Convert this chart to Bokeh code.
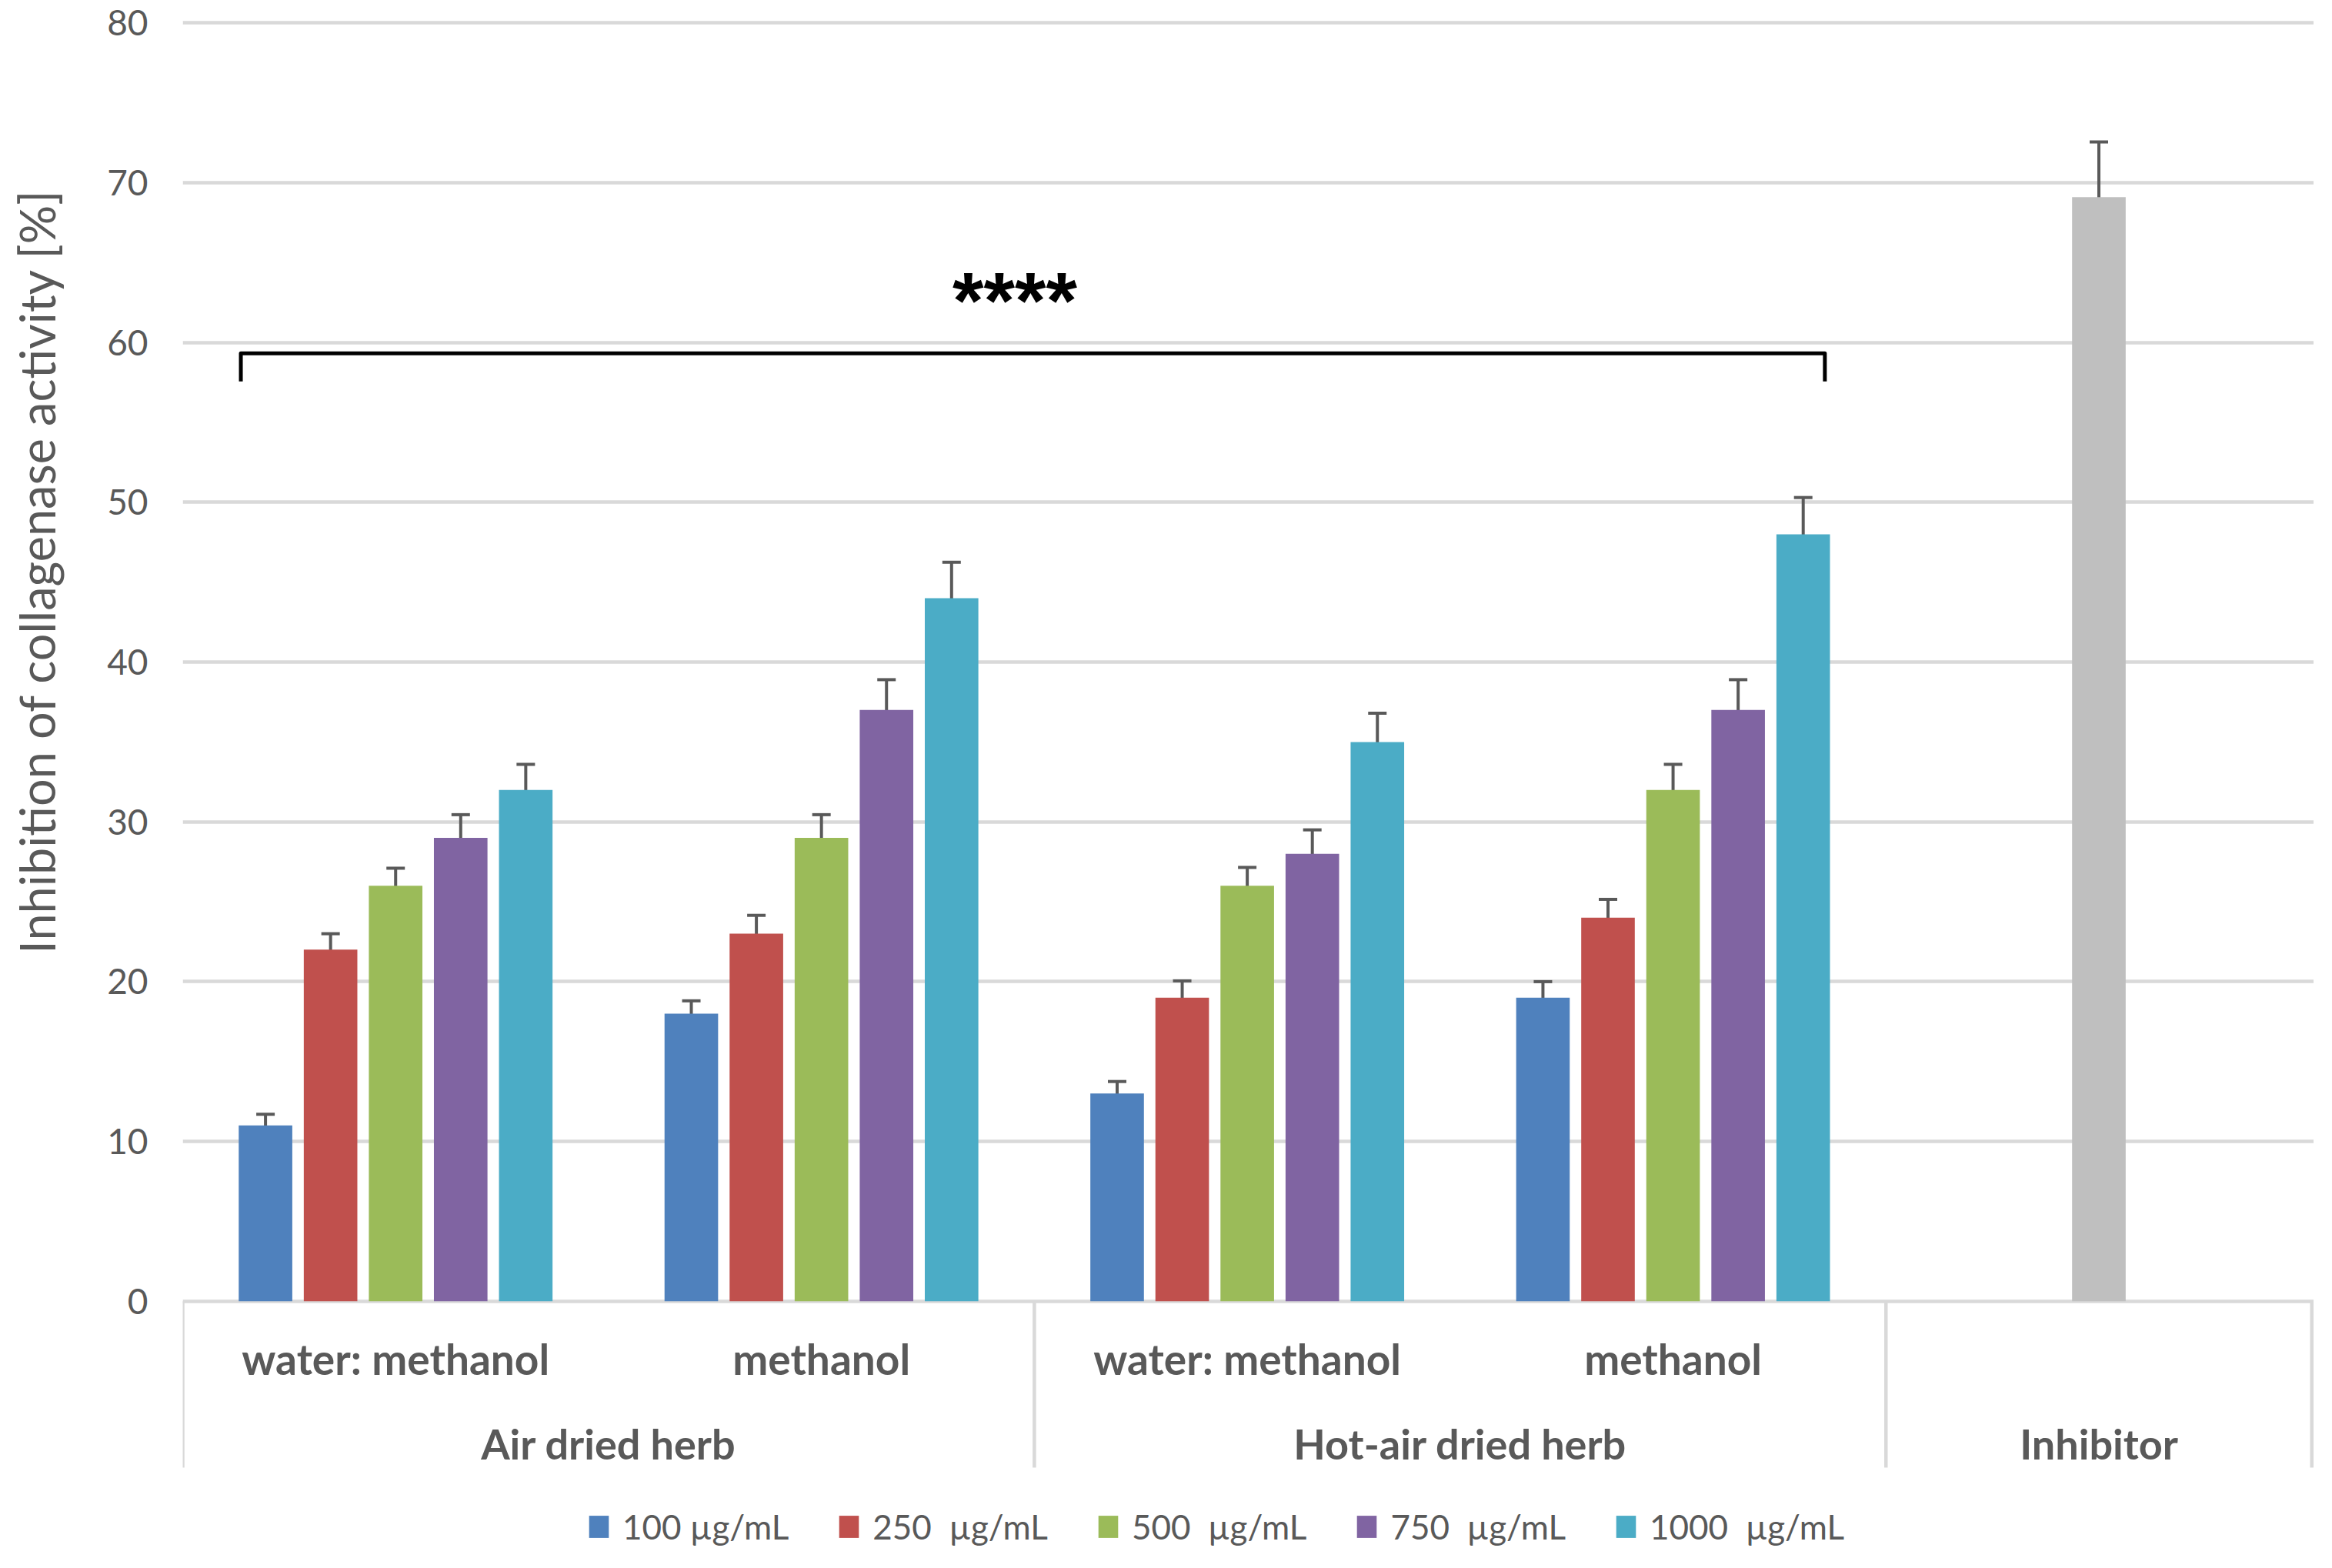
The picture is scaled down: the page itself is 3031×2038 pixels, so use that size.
import math
from bokeh.plotting import figure
from bokeh.layouts import row
from bokeh.models import (ColumnDataSource, Range1d, FixedTicker, Whisker, TeeHead,
                          Legend, LegendItem)
from bokeh.core.properties import value
from bokeh.embed import file_html
from bokeh.resources import INLINE

# ---------------- data ----------------
groups = ["Air dried herb", "Air dried herb", "Hot-air dried herb", "Hot-air dried herb", "Inhibitor"]
extracts = ["water: methanol", "methanol", "water: methanol", "methanol", ""]
series_names = ["100 µg/mL", "250  µg/mL", "500  µg/mL", "750  µg/mL", "1000  µg/mL"]

s100 = [11, 18, 13, 19]
s250 = [22, 23, 19, 24]
s500 = [26, 29, 26, 32]
s750 = [29, 37, 28, 37]
s1000 = [32, 44, 35, 48]

e100 = [0.7, 0.8, 0.75, 1.0]
e250 = [1.0, 1.15, 1.05, 1.15]
e500 = [1.1, 1.45, 1.15, 1.6]
e750 = [1.45, 1.9, 1.5, 1.9]
e1000 = [1.6, 2.25, 1.8, 2.3]

inhibitor_value = [69.1]
inhibitor_err = [3.45]

y_ticks = [0, 10, 20, 30, 40, 50, 60, 70, 80]
y_title = "Inhibition of collagenase activity [%]"
significance = "****"

# ---------------- style ----------------
colors = ["#4F81BD", "#C0504D", "#9BBB59", "#8064A2", "#4BACC6"]
inhib_color = "#BFBFBF"
text_color = "#595959"
grid_color = "#D9D9D9"
FONT = "Lato"
bar_w = 0.1258
step = 0.1528
bracket_y = 59.33
bracket_drop = 1.76
bracket_inset_left = 0.005
bracket_inset_right = 0.012
star_y = 62.6
star_shift = -0.046
sub_label_y = -3.6
group_label_y = -8.9
sep_bottom = -10.41
y_title_center = 45.7
y_title_x = 47
TITLE_W = 110
FRAME_H = 2004
TOP = 19

series_vals = [s100, s250, s500, s750, s1000]
series_errs = [e100, e250, e500, e750, e1000]

yr = Range1d(-16.0, 80.5)

p = figure(frame_width=2770, frame_height=FRAME_H,
           x_range=Range1d(0, 5.005), y_range=yr,
           output_backend="svg", toolbar_location=None,
           min_border_left=237 - TITLE_W, min_border_top=TOP,
           min_border_right=0, min_border_bottom=2)
p.outline_line_color = None
p.xaxis.visible = False
p.xgrid.visible = False

ticker = FixedTicker(ticks=y_ticks)
p.yaxis.ticker = ticker
p.ygrid.ticker = ticker
p.ygrid.grid_line_color = grid_color
p.ygrid.grid_line_width = 4.5
p.yaxis.axis_line_color = None
p.yaxis.major_tick_line_color = None
p.yaxis.minor_tick_line_color = None
p.yaxis.major_label_text_font = FONT
p.yaxis.major_label_text_font_size = "46px"
p.yaxis.major_label_text_color = text_color
p.yaxis.major_label_standoff = 39

# narrow panel holding the y-axis title
tp = figure(frame_width=TITLE_W, frame_height=FRAME_H,
            x_range=Range1d(0, TITLE_W), y_range=yr,
            x_axis_type=None, y_axis_type=None,
            output_backend="svg", toolbar_location=None,
            min_border_left=0, min_border_right=0, min_border_top=TOP, min_border_bottom=2)
tp.outline_line_color = None
tp.text(x=[y_title_x], y=[y_title_center], text=[y_title], angle=math.pi / 2,
        text_font=value(FONT), text_font_size="63px", text_color=text_color,
        text_align="center", text_baseline="alphabetic")

n_groups = len(s100)
centers = [i + 0.5 for i in range(len(groups))]

legend_items = []
first_left = None
last_right = None
head = dict(size=24, line_color=text_color, line_width=4)
for k, (vals, errs) in enumerate(zip(series_vals, series_errs)):
    off = (k - 2) * step
    xs = [centers[i] + off for i in range(n_groups)]
    src = ColumnDataSource(dict(x=xs, top=vals,
                                upper=[v + e for v, e in zip(vals, errs)],
                                lower=[v - e for v, e in zip(vals, errs)]))
    r = p.vbar(x="x", top="top", bottom=0, width=bar_w, source=src,
               fill_color=colors[k], line_color=None)
    legend_items.append(LegendItem(label=series_names[k], renderers=[r]))
    p.add_layout(Whisker(base="x", upper="upper", lower="lower", source=src,
                         line_color=text_color, line_width=4,
                         upper_head=TeeHead(**head), lower_head=TeeHead(**head)))
    if k == 0:
        first_left = xs[0] - bar_w / 2
    if k == len(series_vals) - 1:
        last_right = xs[-1] + bar_w / 2

# inhibitor
isrc = ColumnDataSource(dict(x=[centers[4]], top=inhibitor_value,
                             upper=[inhibitor_value[0] + inhibitor_err[0]],
                             lower=[inhibitor_value[0] - inhibitor_err[0]]))
p.vbar(x="x", top="top", bottom=0, width=bar_w, source=isrc,
       fill_color=inhib_color, line_color=None)
p.add_layout(Whisker(base="x", upper="upper", lower="lower", source=isrc,
                     line_color=text_color, line_width=4,
                     upper_head=TeeHead(**head), lower_head=TeeHead(**head)))

# category separators (group boundaries)
bounds = [0]
for i in range(1, len(groups)):
    if groups[i] != groups[i - 1]:
        bounds.append(i)
bounds.append(len(groups))
p.segment(x0=bounds, x1=bounds, y0=[0] * len(bounds), y1=[sep_bottom] * len(bounds),
          line_color=grid_color, line_width=4.5)

# sub labels
p.text(x=centers[:4], y=[sub_label_y] * 4, text=extracts[:4],
       text_font=value(FONT), text_font_style="bold", text_font_size="55px",
       text_color=text_color, text_align="center", text_baseline="middle")
# group labels
gnames, gx = [], []
for a, b in zip(bounds[:-1], bounds[1:]):
    gnames.append(groups[a])
    gx.append((a + b) / 2)
p.text(x=gx, y=[group_label_y] * len(gx), text=gnames,
       text_font=value(FONT), text_font_style="bold", text_font_size="54px",
       text_color=text_color, text_align="center", text_baseline="middle")

# significance bracket
bl = first_left + bracket_inset_left
br = last_right - bracket_inset_right
p.line(x=[bl, bl, br, br],
       y=[bracket_y - bracket_drop, bracket_y, bracket_y, bracket_y - bracket_drop],
       line_color="black", line_width=5, line_join="round")
p.text(x=[(first_left + last_right) / 2 + star_shift], y=[star_y], text=[significance],
       text_font=value("Liberation Sans"), text_font_style="bold", text_font_size="104px",
       text_color="black", text_align="center", text_baseline="alphabetic")

legend = Legend(items=legend_items, orientation="horizontal", location=(525, 13),
                label_text_font=FONT, label_text_font_size="44px",
                label_text_color=text_color, label_standoff=15,
                glyph_width=32, glyph_height=36, spacing=62,
                padding=0, margin=0, border_line_color=None, background_fill_alpha=0)
p.add_layout(legend)

layout = row(tp, p, spacing=0)
open("out.html", "w").write(file_html(layout, INLINE))
